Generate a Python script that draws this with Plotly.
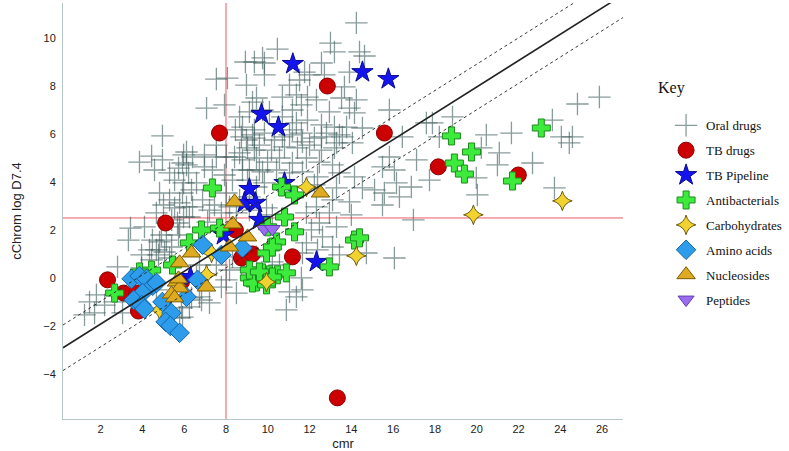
import plotly.graph_objects as go

# ---- data (cmr, cChrom log D7.4) ----
oral_x = [14.24, 13.0, 13.19, 10.46, 14.39, 14.63, 9.75, 9.84, 12.57, 11.76, 12.0, 12.71, 13.91, 9.84, 9.36,
          11.52, 11.04, 13.67, 10.70, 11.37, 11.90, 12.33, 12.95, 13.91, 14.15, 11.61, 9.46, 9.27, 10.08, 11.90,
          12.57, 13.19, 13.43, 12.57, 11.18, 10.70, 11.66, 13.29, 13.53, 14.24, 13.77,
          8.93, 7.54, 8.07, 8.98, 7.07, 7.93, 8.65, 9.12, 4.96, 6.11, 6.97, 4.44, 7.54, 8.45, 8.98, 8.79, 9.36,
          9.36, 9.03, 9.36, 8.65, 8.02,
          9.75, 10.70, 11.18, 11.37, 13.57, 14.05,
          8.74, 9.27, 9.84, 10.32, 11.04, 11.61, 12.23, 12.81, 9.60, 10.18, 10.80, 11.42, 12.0, 12.57, 13.19,
          8.79, 9.46, 9.99, 10.56, 11.18, 11.85, 12.47, 13.10, 9.12, 9.75, 10.42, 11.04, 11.66, 12.38, 13.43,
          14.15, 9.03, 9.84, 12.23, 13.29, 14.53, 13.10, 13.91, 12.33, 11.85, 12.95, 14.0, 12.47, 13.29, 12.09,
          12.62, 11.85, 13.10, 12.38, 13.43, 11.66,
          3.86, 5.97, 5.73, 6.11, 5.54, 5.97, 6.21, 5.78, 5.01, 5.54, 6.11, 5.97, 5.40, 5.78, 3.43, 4.10, 3.33,
          4.82, 5.73, 5.40, 3.96, 4.77, 4.34, 5.06,
          1.80, 1.47, 1.71, 1.23, 2.81, 3.05, 3.96, 4.48, 4.91, 5.78, 6.35, 5.92, 6.35, 2.67, 4.44, 2.19,
          4.96, 4.58, 5.30, 5.92, 6.40, 6.97, 7.54, 6.59, 6.88, 7.45, 4.82, 5.30, 6.25, 5.68, 4.67, 5.15, 4.67,
          5.30, 8.41, 8.79, 8.31, 8.02, 8.65, 7.21, 7.78, 8.50, 9.12, 9.94, 10.22, 7.12, 8.79, 8.31, 9.46, 9.22,
          8.17, 7.54, 6.73, 6.59, 8.02, 8.50, 11.37, 11.66, 10.89, 6.73, 7.21, 6.25, 5.92, 4.67,
          7.35, 7.93, 6.40, 8.17, 9.12, 9.46, 9.60,
          10.22, 10.56, 11.61, 11.04, 7.78, 6.83, 5.87, 8.74, 14.72,
          15.82, 14.53, 17.59, 17.88, 18.84, 16.44, 18.21, 20.46, 21.66, 23.62, 24.05, 24.58, 24.43, 24.82,
          21.08, 20.99, 20.22, 22.67, 23.72, 19.98, 17.74, 15.82, 15.49, 16.06, 17.12, 16.87, 15.11, 15.58,
          16.30, 25.87,
          16.16, 15.49, 20.03, 16.97, 16.06]
oral_y = [10.63, 9.79, 9.42, 9.54, 9.42, 9.25, 9.17, 8.96, 8.96, 8.58, 8.46, 8.46, 8.58, 8.46, 9.0,
          8.25, 8.04, 7.96, 7.54, 7.63, 7.54, 7.42, 6.92, 7.08, 6.88, 7.21, 7.5, 7.33, 6.92, 6.58,
          6.38, 6.29, 5.96, 5.88, 6.17, 5.88, 5.67, 5.63, 7.5, 7.42, 6.29,
          9.0, 8.29, 8.33, 8.04, 7.08, 7.21, 6.71, 6.92, 5.92, 5.25, 5.13, 5.08, 5.54, 6.17, 5.75, 6.29, 6.17,
          5.83, 5.42, 5.33, 5.21, 5.04,
          7.0, 6.71, 7.0, 6.46, 5.88, 5.63,
          5.88, 5.96, 6.04, 5.75, 5.96, 6.04, 5.83, 6.04, 5.54, 5.33, 5.46, 5.42, 5.54, 5.33, 5.42,
          4.92, 5.0, 4.83, 5.0, 4.79, 5.0, 4.83, 4.71, 4.5, 4.42, 4.5, 4.38, 4.42, 4.21, 4.38,
          4.21, 4.08, 3.96, 3.88, 3.75, 3.75, 3.25, 3.17, 2.96, 2.71, 2.71, 2.63, 2.29, 2.13, 2.0,
          1.71, 1.46, 1.29, 1.17, 0.96, 1.04,
          4.83, 5.13, 4.58, 4.71, 4.08, 3.96, 4.38, 3.13, 3.04, 2.92, 2.96, 2.54, 2.42, 2.13, 2.08, 2.13, 1.58,
          1.5, 1.79, 1.29, 0.96, 0.96, 1.17, 1.08,
          -0.71, -1.0, -1.46, -1.54, 0.46, -1.46, 0.42, 1.58, 1.79, -1.67, -0.83, 3.54, 3.67, -1.0, 0.75, -1.13,
          4.92, 4.5, 4.38, 4.79, 5.04, 4.63, 5.04, 3.96, 3.25, 3.04, 3.54, 3.25, 2.54, 2.29, 2.71, 1.58, 1.17,
          0.83, 5.04, 4.5, 4.08, 3.54, 3.25, 2.83, 2.71, 2.71, 2.83, 2.92, 2.63, 2.33, 1.17, 0.88, 0.88, 0.46,
          0.33, 0.54, 0.54, 0.04, -0.08, -0.63, -0.79, -0.5, -1.33, -0.79, -1.04, -1.21, -1.63, -0.5,
          4.5, 4.29, 2.96, 2.96, 3.38, 3.79, 4.5,
          0.67, 0.54, 0.0, -0.58, -0.38, -0.92, -1.25, 0.42, 1.04,
          7.0, 6.25, 6.46, 6.46, 6.71, 5.88, 5.88, 5.96, 6.04, 6.58, 5.88, 5.88, 5.63, 7.25,
          5.21, 4.71, 5.42, 4.79, 3.75, 4.17, 4.08, 5.04, 4.63, 4.5, 4.92, 3.79, 3.67, 3.54,
          3.38, 7.54,
          3.96, 3.04, 3.46, 2.42, 0.83]

tb_x = [12.85, 7.69, 15.58, 18.16, 21.99, 5.11, 8.45, 8.74, 9.27, 11.18, 5.87, 2.33, 3.10, 3.72, 3.81, 13.33]
tb_y = [8.0, 6.04, 6.04, 4.63, 4.29, 2.29, 2.0, 0.83, 1.0, 0.88, -0.17, -0.08, -0.63, -0.63, -1.38, -5.0]

pipe_x = [11.2, 14.53, 15.77, 9.70, 10.51, 10.80, 9.12, 8.88, 9.41, 9.60, 7.88, 12.33, 6.30]
pipe_y = [8.92, 8.58, 8.29, 6.83, 6.29, 3.96, 3.71, 3.13, 3.13, 2.42, 1.79, 0.67, 0.04]

abx_x = [7.35, 10.66, 11.28, 10.80, 11.28, 9.99, 6.83, 7.69, 6.25, 10.42, 9.94, 12.95, 4.44, 5.44, 2.67,
         3.86, 18.79, 19.75, 18.93, 19.41, 21.71, 23.09, 14.15, 14.39, 9.12, 9.46, 9.75, 10.08, 10.46,
         10.89, 9.27, 9.94, 9.12, 9.60, 10.22, 10.22]
abx_y = [3.75, 3.79, 3.46, 2.54, 1.92, 2.13, 2.0, 2.08, 1.46, 1.5, 1.04, 0.46, 0.33, 0.54, -0.63,
         0.25, 5.92, 5.25, 4.79, 4.33, 4.04, 6.25, 1.58, 1.67, 0.0, -0.17, 0.21, 0.13, 0.13,
         0.21, -0.21, -0.29, 0.33, 0.25, 0.04, 1.29]

carb_x = [19.84, 24.10, 14.24, 11.85, 7.31, 7.07, 4.82, 9.94]
carb_y = [2.63, 3.21, 0.92, 3.79, 1.04, 0.13, -1.33, -0.17]

amino_x = [3.48, 3.86, 4.20, 4.49, 4.01, 3.58, 3.96, 4.10, 4.96, 5.39, 5.11, 5.34, 5.78, 6.11, 6.64,
           6.88, 7.78, 8.79, 4.68]
amino_y = [-0.04, 0.08, -0.04, -0.33, -0.63, -0.92, -1.13, -1.29, -1.0, -1.46, -1.83, -2.0, -2.29, -0.79,
           -0.08, 1.38, 0.96, 1.25, -0.21]

nuc_x = [12.52, 8.41, 8.32, 9.03, 8.17, 6.35, 5.78, 7.07, 5.63, 5.78, 5.39, 5.54, 5.73]
nuc_y = [3.54, 3.17, 2.25, 1.71, 1.29, 1.04, 0.63, -0.38, -0.17, -0.42, -0.67, -0.83, -0.04]

pep_x = [9.84, 10.22]
pep_y = [2.04, 2.04]

# fitted line and +/- band, cut-off lines
fit_intercept = -3.02
fit_slope = 0.549
fit_band = 0.95
cut_cmr = 8
cut_logd = 2.5

x_range = [0.2, 27.0]
y_range = [-5.88, 11.46]

ORAL = "rgba(65,95,95,0.62)"

fig = go.Figure()

fig.add_trace(go.Scatter(
    x=oral_x, y=oral_y, mode="markers", name="Oral drugs",
    marker=dict(symbol="cross-thin-open", size=16, color=ORAL,
                line=dict(color=ORAL, width=1.3)),
))
fig.add_trace(go.Scatter(
    x=tb_x, y=tb_y, mode="markers", name="TB drugs",
    marker=dict(symbol="circle", size=16, color="#CC0000", line=dict(color="#8B0000", width=1)),
))
fig.add_trace(go.Scatter(
    x=pipe_x, y=pipe_y, mode="markers", name="TB Pipeline",
    marker=dict(symbol="star", size=16, color="#1414EE", line=dict(color="#0A0A90", width=1)),
))
fig.add_trace(go.Scatter(
    x=abx_x, y=abx_y, mode="markers", name="Antibacterials",
    marker=dict(symbol="cross", size=15, color="#3CEB3C", line=dict(color="#1E8C1E", width=1)),
))
fig.add_trace(go.Scatter(
    x=carb_x, y=carb_y, mode="markers", name="Carbohydrates",
    marker=dict(symbol="star-diamond", size=14, color="#F2D22E", line=dict(color="#6B5A10", width=1)),
))
fig.add_trace(go.Scatter(
    x=amino_x, y=amino_y, mode="markers", name="Amino acids",
    marker=dict(symbol="diamond", size=15, color="#2D9CEB", line=dict(color="#1565A8", width=1)),
))
fig.add_trace(go.Scatter(
    x=nuc_x, y=nuc_y, mode="markers", name="Nucleosides",
    marker=dict(symbol="triangle-up", size=16, color="#DDAA22", line=dict(color="#7A5C00", width=1)),
))
fig.add_trace(go.Scatter(
    x=pep_x, y=pep_y, mode="markers", name="Peptides",
    marker=dict(symbol="triangle-down", size=14, color="#9B6BF0", line=dict(color="#6040B0", width=1)),
))

# regression line with dotted band
for off, dash, w in [(0, "solid", 1.6), (fit_band, "dot", 0.9), (-fit_band, "dot", 0.9)]:
    fig.add_trace(go.Scatter(
        x=x_range, y=[fit_intercept + off + fit_slope * v for v in x_range],
        mode="lines", line=dict(color="#222222", width=w, dash=dash),
        showlegend=False, hoverinfo="skip",
    ))

fig.add_shape(type="line", xref="x", yref="paper", x0=cut_cmr, x1=cut_cmr, y0=0, y1=1,
              line=dict(color="#EE5A64", width=1), layer="below")
fig.add_shape(type="line", xref="paper", yref="y", x0=0, x1=1, y0=cut_logd, y1=cut_logd,
              line=dict(color="#EE5A64", width=1), layer="below")

fig.add_annotation(text="Key", xref="paper", yref="paper", x=1.115, y=0.822,
                   showarrow=False, font=dict(family="Liberation Serif", size=16, color="#111"))

fig.update_layout(
    width=789, height=451,
    plot_bgcolor="#FFFFFF", paper_bgcolor="#FFFFFF",
    margin=dict(l=63, r=165, t=3, b=32),
    font=dict(family="Liberation Sans", size=11, color="#222"),
    legend=dict(x=1.075, y=0.742, xanchor="left", yanchor="top",
                font=dict(family="Liberation Serif", size=13, color="#111"),
                tracegroupgap=5, traceorder="grouped", bgcolor="rgba(0,0,0,0)"),
    xaxis=dict(range=x_range, tickvals=list(range(2, 27, 2)), showgrid=False, zeroline=False,
               showline=True, linecolor="#B4C8C8", linewidth=1, ticks="",
               title=dict(text="cmr", standoff=6), automargin=False),
    yaxis=dict(range=y_range, tickvals=list(range(-4, 11, 2)), showgrid=False, zeroline=False,
               showline=True, linecolor="#B4C8C8", linewidth=1, ticks="", ticklabelstandoff=4,
               title=dict(text="cChrom log D7.4", standoff=18), automargin=False),
)
for i, tr in enumerate(fig.data):
    if tr.showlegend is not False:
        tr.legendgroup = f"g{i}"

fig.write_html("out.html", config={"displayModeBar": False})

# drop the browser's default body margin so the chart sits at the page corner
with open("out.html", encoding="utf-8") as f:
    page = f.read()
page = page.replace("<head>", "<head><style>body{margin:0}</style>", 1)
with open("out.html", "w", encoding="utf-8") as f:
    f.write(page)
